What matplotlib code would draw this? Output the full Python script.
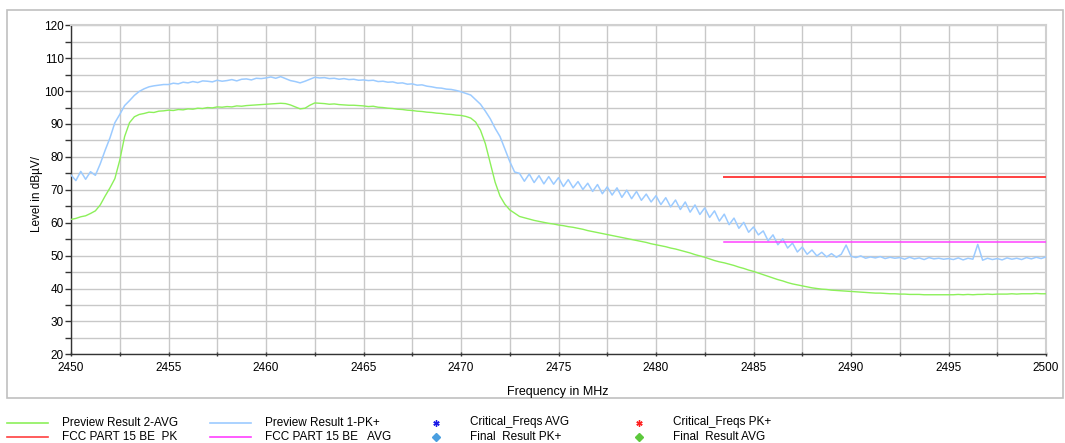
import numpy as np
import matplotlib
matplotlib.use("Agg")
import matplotlib.pyplot as plt
from matplotlib.lines import Line2D
from matplotlib.patches import Rectangle

plt.rcParams['font.family'] = ['Liberation Sans', 'DejaVu Sans']

# frequency axis of the preview scans, 0.25 MHz steps
freq_start = 2450.0
freq_step = 0.25

# Preview Result 1-PK+ (dBuV/m)
pk_plus = [
    74.5, 72.8, 75.6, 73.2, 75.5, 74.4, 77.9, 82.0, 85.8, 90.4, 92.9, 95.6, 97.1, 98.7, 99.9, 100.7, 101.3, 101.6, 101.8, 102.0,
    102.0, 102.4, 102.2, 102.7, 102.5, 102.9, 102.6, 103.1, 103.0, 102.8, 103.3, 103.0, 103.2, 103.5, 103.1, 103.6, 103.7, 103.4, 103.9, 103.8,
    104.0, 104.3, 103.9, 104.4, 103.8, 103.2, 102.9, 102.5, 103.0, 103.6, 104.2, 104.0, 104.1, 103.8, 103.9, 103.6, 103.8, 103.5, 103.6, 103.3,
    103.4, 103.2, 103.3, 102.9, 103.0, 102.7, 102.8, 102.4, 102.5, 102.1, 102.2, 101.8, 101.9, 101.5, 101.3, 101.0, 100.9, 100.6, 100.5, 100.2,
    99.8, 99.3, 98.8, 97.4, 96.0, 93.9, 91.6, 88.7, 86.2, 82.4, 78.6, 75.4, 75.0, 72.6, 74.8, 72.2, 74.3, 71.8, 74.0, 71.7,
    73.7, 71.0, 73.1, 70.6, 72.5, 70.1, 72.0, 69.5, 71.6, 68.8, 70.9, 68.4, 70.6, 67.7, 69.9, 67.3, 69.5, 66.8, 68.7, 66.3,
    68.2, 65.5, 67.6, 64.8, 66.9, 64.0, 66.3, 63.2, 65.4, 62.5, 64.5, 61.6, 63.6, 60.5, 62.6, 59.4, 61.4, 58.3, 60.1, 57.1,
    58.7, 56.3, 57.5, 54.5, 56.3, 53.3, 55.1, 52.3, 53.8, 51.1, 52.6, 50.4, 51.7, 49.9, 51.0, 49.6, 50.6, 49.5, 50.4, 53.2,
    49.8, 49.4, 49.9, 49.2, 49.6, 49.3, 49.7, 49.1, 49.5, 49.2, 49.4, 48.9, 49.5, 49.0, 49.3, 48.8, 49.4, 49.0, 49.2, 48.9,
    49.1, 48.8, 49.3, 48.7, 49.2, 48.9, 53.4, 48.6, 49.2, 48.8, 49.1, 48.7, 49.3, 48.9, 49.2, 48.8, 49.4, 49.0, 49.5, 49.1,
    49.6,
]

# Preview Result 2-AVG (dBuV/m)
avg = [
    61.0, 61.3, 61.8, 62.1, 62.8, 63.6, 65.4, 68.1, 70.6, 73.4, 79.0, 86.2, 90.4, 92.2, 92.9, 93.2, 93.6, 93.5, 93.9, 94.0,
    94.2, 94.1, 94.4, 94.3, 94.6, 94.5, 94.8, 94.7, 95.0, 94.9, 95.2, 95.1, 95.3, 95.2, 95.5, 95.4, 95.6, 95.7, 95.8, 95.9,
    96.0, 96.1, 96.2, 96.3, 96.2, 95.8, 95.2, 94.6, 94.8, 95.7, 96.4, 96.3, 96.2, 96.0, 96.1, 95.9, 95.8, 95.7, 95.7, 95.6,
    95.5, 95.3, 95.4, 95.1, 95.0, 94.8, 94.7, 94.5, 94.4, 94.2, 94.1, 93.9, 93.8, 93.6, 93.5, 93.3, 93.2, 93.0, 92.9, 92.7,
    92.6, 92.3, 91.8, 90.6, 88.1, 84.0, 78.2, 72.3, 68.1, 65.6, 63.9, 62.9, 61.9, 61.5, 61.1, 60.7, 60.4, 60.1, 59.8, 59.6,
    59.3, 59.1, 58.8, 58.6, 58.3, 58.0, 57.6, 57.3, 57.0, 56.7, 56.4, 56.1, 55.8, 55.5, 55.2, 54.9, 54.6, 54.3, 54.0, 53.6,
    53.3, 53.0, 52.7, 52.3, 52.0, 51.6, 51.2, 50.8, 50.3, 49.9, 49.5, 49.0, 48.5, 48.1, 47.8, 47.4, 47.0, 46.5, 46.1, 45.6,
    45.2, 44.7, 44.2, 43.7, 43.2, 42.7, 42.3, 41.8, 41.4, 41.1, 40.8, 40.5, 40.2, 40.0, 39.8, 39.7, 39.5, 39.4, 39.3, 39.2,
    39.1, 39.0, 38.9, 38.8, 38.7, 38.6, 38.6, 38.5, 38.4, 38.4, 38.3, 38.3, 38.2, 38.2, 38.2, 38.1, 38.1, 38.1, 38.1, 38.1,
    38.1, 38.1, 38.2, 38.1, 38.2, 38.1, 38.2, 38.2, 38.3, 38.2, 38.3, 38.3, 38.3, 38.4, 38.3, 38.4, 38.4, 38.4, 38.5, 38.4,
    38.4,
]

# FCC limit lines (restricted band above 2483.5 MHz)
limit_freq = [2483.5, 2500.0]
limit_pk = [74.0, 74.0]
limit_avg = [54.0, 54.0]

legend_labels = [
    "Preview Result 2-AVG", "Preview Result 1-PK+", "Critical_Freqs AVG", "Critical_Freqs PK+",
    "FCC PART 15 BE  PK", "FCC PART 15 BE   AVG", "Final  Result PK+", "Final  Result AVG",
]

W, H = 1065, 443
fig = plt.figure(figsize=(W / 100, H / 100), dpi=100)

def fx(px):
    return px / W

def fy(py):
    return 1 - py / H

# outer frame around the diagram
fig.add_artist(Rectangle((fx(7), fy(398)), fx(1063) - fx(7), fy(10) - fy(398),
                         transform=fig.transFigure, fill=False, ec='#c0c0c0', lw=1.2))

ax = fig.add_axes([fx(71), fy(354.3), fx(1046) - fx(71), fy(25.3) - fy(354.3)])

freq = freq_start + freq_step * np.arange(len(pk_plus))
ax.plot(freq, avg, color='#8cf05a', lw=1.0, zorder=3)
ax.plot(freq, pk_plus, color='#9ccbff', lw=1.1, zorder=3)
ax.plot(limit_freq, limit_pk, color='#ff4040', lw=1.4, zorder=4)
ax.plot(limit_freq, limit_avg, color='#ff40ff', lw=1.1, zorder=4)

ax.set_xlim(2450, 2500)
ax.set_ylim(20, 120)
ax.set_xticks(np.arange(2450, 2501, 5))
ax.set_xticks(np.arange(2450, 2501, 2.5), minor=True)
ax.set_yticks(np.arange(20, 121, 10))
ax.set_yticks(np.arange(20, 121, 5), minor=True)
ax.grid(True, which='both', color='#c8c8c8', lw=1.0, zorder=0)
ax.set_axisbelow(True)

for s in ['top', 'right']:
    ax.spines[s].set_color('#d0d0d0')
    ax.spines[s].set_linewidth(1.5)
for s in ['left', 'bottom']:
    ax.spines[s].set_color('#333333')
    ax.spines[s].set_linewidth(1.0)

ax.tick_params(axis='both', which='both', labelsize=8.5, color='#333333', width=1)
ax.tick_params(axis='y', which='major', length=4, direction='out', pad=1)
ax.tick_params(axis='y', which='minor', length=4, direction='out')
ax.tick_params(axis='x', which='both', length=3, direction='inout', pad=4)

fig.text(fx(558), fy(392), "Frequency in MHz", ha='center', va='center', fontsize=9)
fig.text(fx(37), fy(194), "Level in dB\u00b5V/", ha='center', va='center', fontsize=8.5, rotation=90)

# legend drawn below the frame, two rows of four entries
rows = [fy(422.5), fy(436.5)]
col_handle = [7, 210, 415, 618]
col_text = [62, 265, 470, 673]
handles = [
    dict(color='#8cf05a', ls='-', marker=None),
    dict(color='#9ccbff', ls='-', marker=None),
    dict(color='#1a1ae6', ls='none', marker=(6, 2, 0)),
    dict(color='#ff2020', ls='none', marker=(6, 2, 0)),
    dict(color='#ff4040', ls='-', marker=None),
    dict(color='#ff40ff', ls='-', marker=None),
    dict(color='#4a9fe0', ls='none', marker='D'),
    dict(color='#5cc83c', ls='none', marker='D'),
]
for i, (lab, h) in enumerate(zip(legend_labels, handles)):
    r, c = divmod(i, 4)
    y = rows[r]
    x0, x1 = fx(col_handle[c]), fx(col_handle[c] + 41)
    if h['marker'] is None:
        fig.add_artist(Line2D([x0, x1], [y, y], transform=fig.transFigure,
                              color=h['color'], lw=1.2))
    else:
        fig.add_artist(Line2D([(x0 + x1) / 2], [y], transform=fig.transFigure,
                              color=h['color'], ls='none', marker=h['marker'],
                              markersize=4.5, markeredgewidth=1.0))
    fig.text(fx(col_text[c]), y, lab, ha='left', va='center', fontsize=8.5)

fig.savefig('out.png', dpi=100)
